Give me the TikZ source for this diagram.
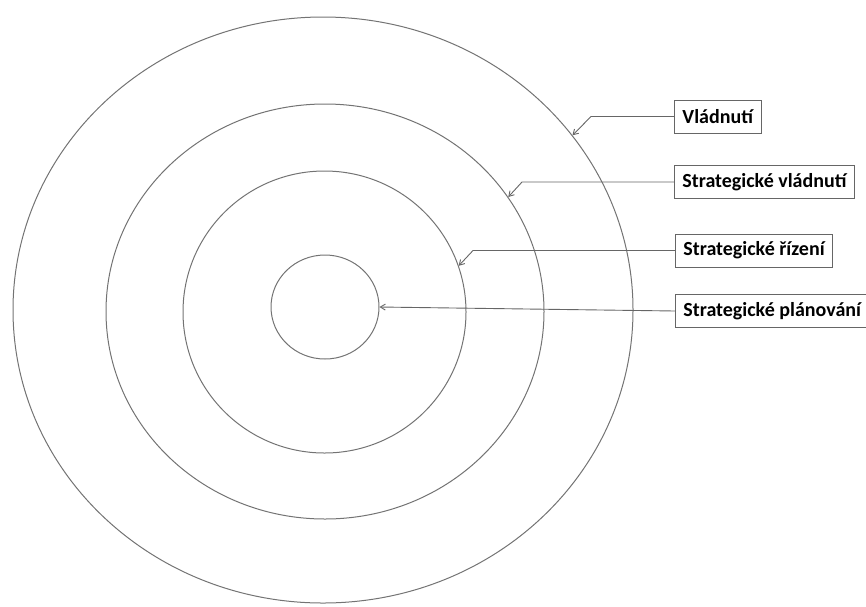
\documentclass[tikz,border=0pt]{standalone}
\usepackage{fontspec}
\setmainfont{Carlito}
\usetikzlibrary{shapes.geometric,arrows.meta}
\begin{document}
\begin{tikzpicture}[x=1pt,y=-1pt,
  ring/.style={draw=black!55,line width=1pt,ellipse,inner sep=0pt},
  lbl/.style={draw=black!60,line width=0.9pt,anchor=west,minimum height=33pt,inner xsep=8pt,inner ysep=0pt,font=\fontsize{20}{22}\selectfont\bfseries,text=black},
  conn/.style={draw=black!60,line width=0.9pt,-{Straight Barb[length=5pt,width=6pt]}}]
\useasboundingbox (0,0) rectangle (866,606);
\node[ring,minimum width=620pt,minimum height=586pt] (e1) at (323,310) {};
\node[ring,minimum width=438pt,minimum height=415pt] (e2) at (325,311.5) {};
\node[ring,minimum width=283pt,minimum height=282pt] (e3) at (324.5,312) {};
\node[ring,minimum width=108pt,minimum height=104pt] (e4) at (325,307) {};
\node[lbl] (b1) at (674,116.5) {Vládnutí};
\node[lbl] (b2) at (674,182) {Strategické vládnutí};
\node[lbl] (b3) at (675,250.5) {Strategické řízení};
\node[lbl] (b4) at (675,311) {Strategické plánování};
\coordinate (k1) at (591,116.5);
\coordinate (k2) at (522,182);
\coordinate (k3) at (473,250.5);
\draw[conn] (b1.west) -- (k1) -- (e1.35.5);
\draw[conn] (b2.west) -- (k2) -- (e2.32.5);
\draw[conn] (b3.west) -- (k3) -- (e3.19);
\draw[conn] (b4.west) -- (e4.east);
\end{tikzpicture}
\end{document}
